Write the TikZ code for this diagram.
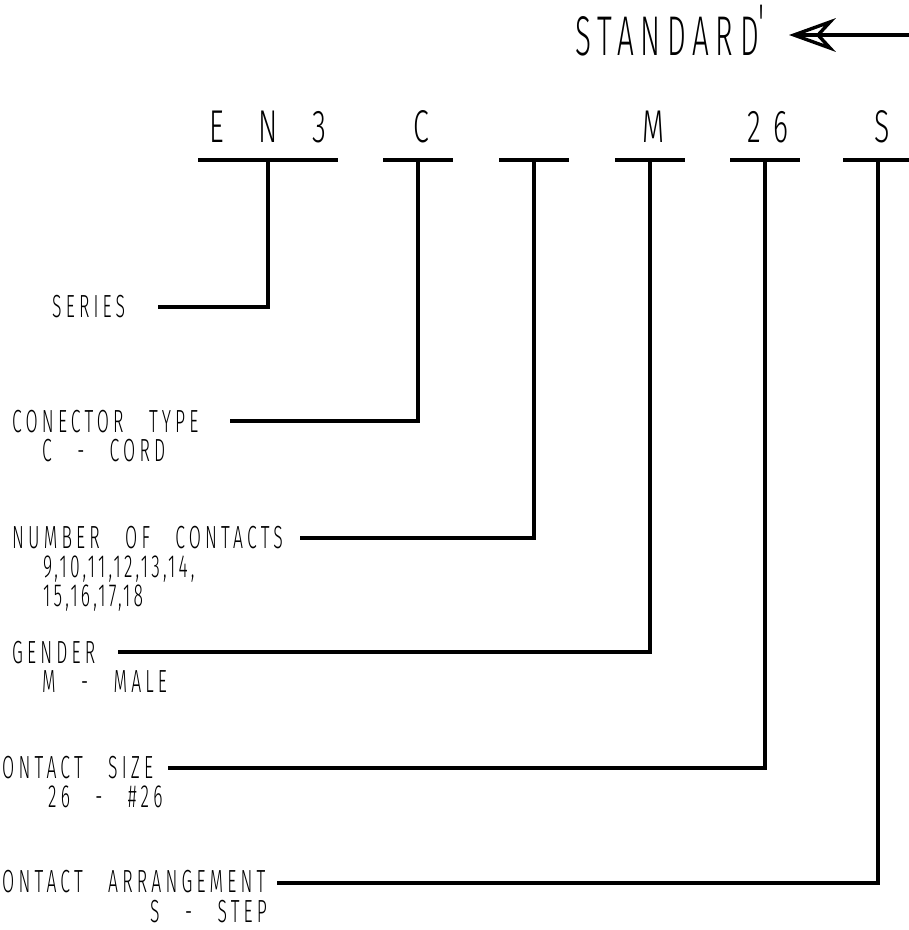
\documentclass[tikz,border=0pt]{standalone}
\usepackage{fontspec}
\IfFontExistsTF{Fira Sans Light}{\def\cadname{Fira Sans Light}}{\def\cadname{Fira Sans}}
\newfontfamily\cadfont[FakeStretch=0.55,LetterSpace=13,WordSpace=2.8,Numbers={Proportional,Lining}]{\cadname}
\newfontfamily\numfont[FakeStretch=0.55,LetterSpace=10,WordSpace=2.8,Numbers={Proportional,Lining}]{\cadname}
\newfontfamily\hdrfont[FakeStretch=0.62,LetterSpace=27,WordSpace=1.7,Numbers={Proportional,Lining}]{\cadname}
\newfontfamily\stdfont[FakeStretch=0.53,LetterSpace=12,Numbers={Proportional,Lining}]{\cadname}
\newcommand\labsel{\fontsize{32}{33}\cadfont}
\newcommand\numsel{\fontsize{32}{33}\numfont}
\newcommand\hdrsel{\fontsize{46}{48}\hdrfont}
\newcommand\stdsel{\fontsize{56}{58}\stdfont}
\tikzset{
  lab/.style={anchor=base west,inner sep=0pt,font=\labsel},
  numlab/.style={anchor=base west,inner sep=0pt,font=\numsel},
  hdr/.style={anchor=base,inner sep=0pt,font=\hdrsel},
  stdtxt/.style={anchor=base west,inner sep=0pt,font=\stdsel},
  bar/.style={line width=3.6pt},
  lead/.style={line width=3.4pt,line join=miter},
  headline/.style={line width=3.4pt,line join=miter},
}
\begin{document}
\begin{tikzpicture}[x=1pt,y=-1pt]
\useasboundingbox (0,0) rectangle (909,930);
% title and arrow
\node[stdtxt] (std) at (575,55) {STANDARD\raisebox{12pt}{'}};
\coordinate (re) at (909,35);
\coordinate (tip) at (794,35);
\coordinate (notch) at (818,35);
\coordinate (tr) at (830,22);
\coordinate (br) at (830,48);
\draw[headline] (re) -- (tip);
\draw[headline] (tip) -- (tr) -- (notch) -- (br) -- cycle;
% header codes
\node[hdr] (h1) at (268,142) {E N 3};
\node[hdr] (h2) at (421,142) {C};
\node[hdr] (h4) at (653,142) {M};
\node[hdr] (h5) at (768,142) {26};
\node[hdr] (h6) at (882,142) {S};
% bars
\coordinate (b1) at (268,160);
\coordinate (b2) at (418,160);
\coordinate (b3) at (534,160);
\coordinate (b4) at (650,160);
\coordinate (b5) at (765,160);
\coordinate (b6) at (878,160);
\draw[bar] ([xshift=-70pt]b1) -- ([xshift=70pt]b1);
\foreach \b in {b2,b3,b4,b5,b6}{\draw[bar] ([xshift=-35pt]\b) -- ([xshift=35pt]\b);}
% labels
\node[lab] (series) at (52,317) {SERIES};
\node[lab] (ctype) at (12,432) {CONECTOR TYPE};
\node[lab] (ctype2) at (42,461) {C - CORD};
\node[lab] (num) at (12,548) {NUMBER OF CONTACTS};
\node[numlab] (num2) at (43,577) {9,10,11,12,13,14,};
\node[numlab] (num3) at (43,606) {15,16,17,18};
\node[lab] (gen) at (12,663) {GENDER};
\node[lab] (gen2) at (42,692) {M - MALE};
\node[lab] (size) at (2,778) {ONTACT SIZE};
\node[lab] (size2) at (48,807) {26 - \#26};
\node[lab] (arr) at (2,892) {ONTACT ARRANGEMENT};
\node[lab] (arr2) at (150,922) {S - STEP};
% leader ends
\coordinate (e1) at (158,307);
\coordinate (e2) at (230,421);
\coordinate (e3) at (300,538);
\coordinate (e4) at (118,652);
\coordinate (e5) at (168,768);
\coordinate (e6) at (277,883);
\draw[lead] (b1) |- (e1);
\draw[lead] (b2) |- (e2);
\draw[lead] (b3) |- (e3);
\draw[lead] (b4) |- (e4);
\draw[lead] (b5) |- (e5);
\draw[lead] (b6) |- (e6);
\end{tikzpicture}
\end{document}
